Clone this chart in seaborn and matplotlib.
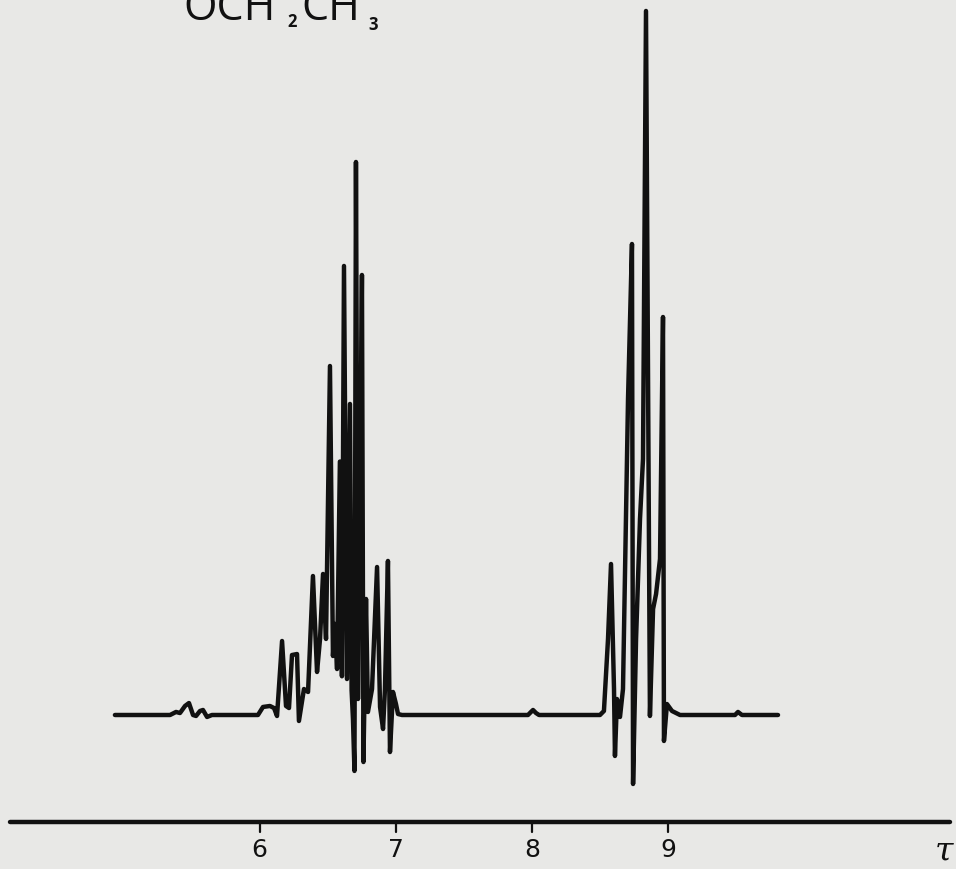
import matplotlib
matplotlib.use("Agg")
import matplotlib.pyplot as plt
import seaborn as sns
import pandas as pd

# Proton NMR trace of an ethoxy group (tau scale), pen-recorder style
tau = [4.937, 5.342, 5.386, 5.415, 5.452, 5.481, 5.511, 5.533, 5.562, 5.584,
       5.614, 5.650, 5.988, 6.025, 6.076, 6.106, 6.128, 6.165, 6.194, 6.216,
       6.238, 6.275, 6.289, 6.326, 6.356, 6.392, 6.422, 6.444, 6.466, 6.488,
       6.517, 6.539, 6.554, 6.569, 6.590, 6.605, 6.620, 6.642, 6.664, 6.676,
       6.686, 6.697, 6.708, 6.723, 6.738, 6.752, 6.763, 6.782, 6.796, 6.826,
       6.863, 6.885, 6.907, 6.921, 6.943, 6.958, 6.980, 7.002, 7.017, 7.046,
       7.972, 7.994, 8.009, 8.031, 8.053, 8.501, 8.530, 8.560, 8.582, 8.597,
       8.604, 8.611, 8.626, 8.648, 8.670, 8.707, 8.736, 8.744, 8.766, 8.795,
       8.817, 8.839, 8.868, 8.891, 8.913, 8.942, 8.964, 8.971, 8.993, 9.030,
       9.089, 9.493, 9.515, 9.544, 9.809]
intensity = [0.0, 0.0, 0.43, 0.28, 1.28, 1.70, 0.0, -0.14, 0.57, 0.71,
             -0.28, 0.0, 0.0, 1.14, 1.28, 0.99, -0.14, 10.51, 1.28, 0.99,
             8.52, 8.66, -0.85, 3.69, 3.27, 19.74, 6.11, 10.80, 20.03, 10.80,
             49.57, 8.38, 12.93, 6.53, 36.0, 5.5, 63.78, 5.11, 44.18, 3.5,
             -0.57, -7.95, 78.55, 2.27, 30.68, 62.50, -6.68, 16.48, 0.43, 3.69,
             21.02, 1.14, -1.99, 3.69, 21.88, -5.26, 3.27, 1.56, 0.14, 0.0,
             0.0, 0.43, 0.71, 0.28, 0.0, 0.0, 0.57, 10.80, 21.45, 9.38,
             3.69, -5.82, 2.27, -0.28, 3.69, 44.89, 66.90, -9.80, 10.80, 27.84,
             36.36, 100.0, -0.14, 15.06, 17.19, 22.16, 56.53, -3.69, 1.56, 0.57,
             0.0, 0.0, 0.43, 0.0, 0.0]

tick_values = [6, 7, 8, 9]
tick_labels = ["6", "7", "8", "9"]
axis_label = "τ"

spectrum = pd.DataFrame({"tau": tau, "intensity": intensity})

sns.set_theme(style="white")
paper = "#e8e8e6"
ink = "#111111"

fig = plt.figure(figsize=(9.56, 8.70), dpi=100, facecolor=paper)
ax = fig.add_axes([0, 0, 1, 1])
ax.set_facecolor(paper)

sns.lineplot(data=spectrum, x="tau", y="intensity", sort=False, estimator=None,
             color=ink, lw=3.2, ax=ax, solid_joinstyle="round",
             solid_capstyle="round")

ax.set_xlim(4.0926, 11.1168)
ax.set_ylim(-21.875, 101.70)
ax.axis("off")

# hand-ruled tau axis under the trace
axis_y = -15.2
ax.plot([4.166, 11.07], [axis_y, axis_y], color=ink, lw=3.2,
        solid_capstyle="round")
for v, lab in zip(tick_values, tick_labels):
    ax.plot([v, v], [axis_y, axis_y - 1.4], color=ink, lw=1.6)
    ax.text(v, -19.0, lab, ha="center", va="center", fontsize=18,
            color=ink, family=["DejaVu Sans"], fontweight="normal")
ax.text(11.03, -19.2, axis_label, ha="center", va="center", fontsize=24,
        color=ink, family=["DejaVu Serif"], style="italic")

# group label, partly running off the top edge
H = 870
label_kw = dict(color=ink, xycoords="figure pixels", family=["Open Sans", "DejaVu Sans"])
ax.annotate("OCH", (183, H - 20), fontsize=31, fontweight="normal", va="baseline", **label_kw)
ax.annotate("2", (287, H - 27), fontsize=12, fontweight="bold", va="baseline", **label_kw)
ax.annotate("CH", (301, H - 20), fontsize=31, fontweight="normal", va="baseline", **label_kw)
ax.annotate("3", (368, H - 30), fontsize=12, fontweight="bold", va="baseline", **label_kw)

fig.savefig("out.png", dpi=100, facecolor=paper)
